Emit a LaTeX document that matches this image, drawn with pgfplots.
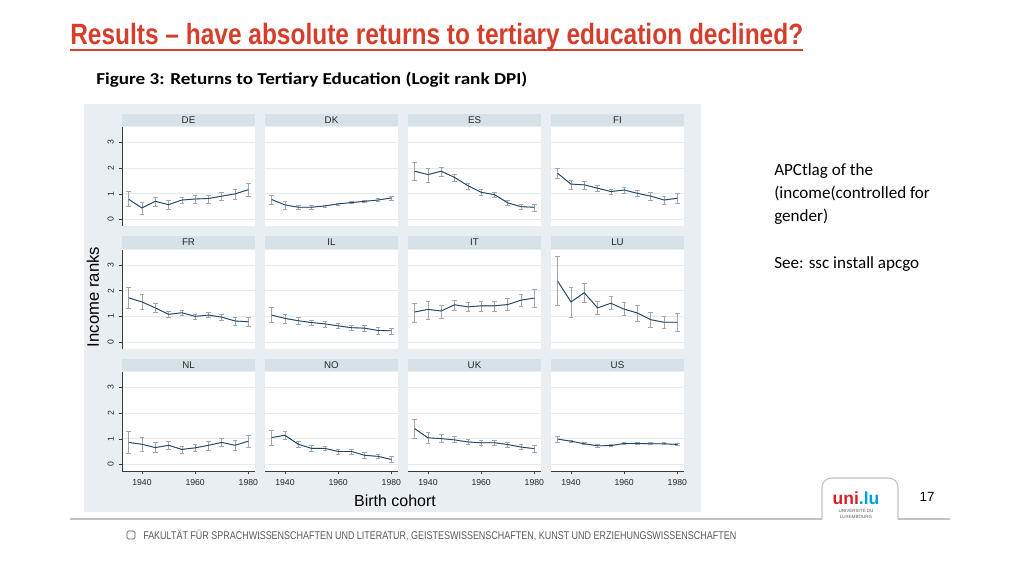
\documentclass[border=0pt]{standalone}
\usepackage{pgfplots}
\pgfplotsset{compat=1.18}
\usepackage{pgfplotstable}
\usepackage{graphicx}
\usepackage{fontspec}
\setmainfont{Liberation Sans}
\newfontfamily\calibri{Carlito}

\definecolor{bgc}{RGB}{232,238,241}
\definecolor{stripc}{RGB}{214,225,232}
\definecolor{gridc}{RGB}{228,235,239}
\definecolor{navyc}{RGB}{26,71,111}
\definecolor{errc}{RGB}{165,165,165}
\definecolor{axc}{RGB}{60,60,60}
\definecolor{titred}{RGB}{214,62,43}
\definecolor{linec}{RGB}{195,195,195}
\definecolor{footc}{RGB}{90,90,90}
\definecolor{unired}{RGB}{210,35,42}
\definecolor{uniblue}{RGB}{0,160,220}

\pgfplotstableread{
x y lo hi
1935 0.79 0.53 1.10
1940 0.45 0.22 0.67
1945 0.71 0.53 0.87
1950 0.58 0.41 0.74
1955 0.76 0.63 0.87
1960 0.80 0.63 0.93
1965 0.82 0.65 0.93
1970 0.91 0.74 1.06
1975 1.00 0.78 1.19
1980 1.16 0.89 1.41
}\tabDE
\pgfplotstableread{
x y lo hi
1935 0.78 0.61 0.96
1940 0.57 0.41 0.71
1945 0.48 0.38 0.57
1950 0.48 0.41 0.54
1955 0.53 0.49 0.57
1960 0.61 0.56 0.65
1965 0.66 0.62 0.70
1970 0.71 0.66 0.76
1975 0.76 0.70 0.81
1980 0.84 0.75 0.92
}\tabDK
\pgfplotstableread{
x y lo hi
1935 1.88 1.54 2.23
1940 1.75 1.45 1.99
1945 1.88 1.67 2.03
1950 1.64 1.47 1.77
1955 1.32 1.19 1.42
1960 1.06 0.96 1.16
1965 0.97 0.87 1.07
1970 0.65 0.54 0.76
1975 0.50 0.39 0.61
1980 0.48 0.32 0.61
}\tabES
\pgfplotstableread{
x y lo hi
1935 1.80 1.60 1.99
1940 1.38 1.19 1.54
1945 1.35 1.19 1.49
1950 1.22 1.10 1.33
1955 1.09 0.97 1.19
1960 1.15 1.03 1.25
1965 1.02 0.89 1.15
1970 0.91 0.74 1.06
1975 0.76 0.61 0.91
1980 0.83 0.63 1.02
}\tabFI
\pgfplotstableread{
x y lo hi
1935 1.72 1.31 2.14
1940 1.56 1.28 1.85
1945 1.33 1.14 1.49
1950 1.08 0.97 1.18
1955 1.14 1.04 1.24
1960 1.00 0.90 1.08
1965 1.05 0.95 1.15
1970 0.97 0.86 1.08
1975 0.82 0.67 0.95
1980 0.79 0.63 0.95
}\tabFR
\pgfplotstableread{
x y lo hi
1935 1.05 0.76 1.35
1940 0.92 0.72 1.09
1945 0.83 0.69 0.96
1950 0.76 0.64 0.86
1955 0.71 0.59 0.81
1960 0.63 0.53 0.72
1965 0.56 0.47 0.65
1970 0.54 0.42 0.65
1975 0.45 0.32 0.56
1980 0.44 0.31 0.55
}\tabIL
\pgfplotstableread{
x y lo hi
1935 1.17 0.78 1.50
1940 1.27 0.88 1.60
1945 1.21 0.92 1.42
1950 1.45 1.23 1.64
1955 1.37 1.19 1.54
1960 1.41 1.21 1.60
1965 1.41 1.21 1.60
1970 1.46 1.24 1.69
1975 1.63 1.40 1.85
1980 1.71 1.35 2.06
}\tabIT
\pgfplotstableread{
x y lo hi
1935 2.37 1.42 3.33
1940 1.56 0.96 2.14
1945 1.92 1.56 2.29
1950 1.33 1.08 1.59
1955 1.51 1.28 1.76
1960 1.28 1.03 1.54
1965 1.13 0.81 1.44
1970 0.87 0.59 1.14
1975 0.77 0.54 1.00
1980 0.77 0.42 1.12
}\tabLU
\pgfplotstableread{
x y lo hi
1935 0.86 0.43 1.28
1940 0.79 0.51 1.05
1945 0.66 0.47 0.86
1950 0.75 0.60 0.91
1955 0.59 0.45 0.70
1960 0.65 0.52 0.78
1965 0.75 0.57 0.92
1970 0.86 0.72 1.01
1975 0.75 0.54 0.95
1980 0.91 0.69 1.12
}\tabNL
\pgfplotstableread{
x y lo hi
1935 1.05 0.74 1.35
1940 1.14 0.98 1.28
1945 0.79 0.66 0.92
1950 0.63 0.52 0.73
1955 0.63 0.54 0.72
1960 0.51 0.41 0.60
1965 0.51 0.41 0.60
1970 0.36 0.26 0.46
1975 0.32 0.23 0.41
1980 0.20 0.08 0.32
}\tabNO
\pgfplotstableread{
x y lo hi
1935 1.40 1.04 1.77
1940 1.04 0.81 1.26
1945 1.01 0.85 1.17
1950 0.96 0.85 1.08
1955 0.88 0.78 0.97
1960 0.85 0.76 0.94
1965 0.85 0.74 0.94
1970 0.78 0.68 0.88
1975 0.68 0.58 0.78
1980 0.62 0.46 0.76
}\tabUK
\pgfplotstableread{
x y lo hi
1935 0.99 0.88 1.09
1940 0.91 0.86 0.96
1945 0.81 0.77 0.85
1950 0.73 0.69 0.77
1955 0.74 0.72 0.77
1960 0.82 0.78 0.86
1965 0.82 0.79 0.85
1970 0.81 0.77 0.85
1975 0.81 0.77 0.85
1980 0.78 0.74 0.82
}\tabUS

\pgfplotsset{
  every axis title shift=0pt,
  panel/.style={
    anchor=south west, scale only axis,
    width=99.75pt, height=74.25pt,
    xmin=1932.5, xmax=1982.5, ymin=-0.25, ymax=3.6,
    xtick={1940,1960,1980}, ytick={0,1,2,3},
    ymajorgrids, grid style={draw=gridc, line width=0.6pt},
    axis background/.style={fill=white},
    axis x line*=bottom, axis y line*=left,
    axis line style={-},
    x axis line style={draw=none}, y axis line style={draw=none},
    xticklabels={}, yticklabels={},
    xtick style={draw=none}, ytick style={draw=none},
    tick align=outside, major tick length=2.6pt,
    clip=false,
    ticklabel style={font=\fontsize{6.5}{7}\selectfont, text=black!85},
    /pgf/number format/1000 sep={},
    /pgf/number format/assume math mode=true,
    title style={at={(0.5,1)}, anchor=south, fill=stripc, minimum width=99.75pt,
      minimum height=9.5pt, inner sep=0pt, outer sep=0pt, yshift=0.4pt,
      font=\fontsize{7.3}{8}\selectfont, text=black!85},
  },
  leftcol/.style={
    y axis line style={draw=axc, line width=0.5pt},
    yticklabels={0,1,2,3},
    ytick style={draw=axc, line width=0.5pt},
    yticklabel style={rotate=90, anchor=south},
  },
  botrow/.style={
    x axis line style={draw=axc, line width=0.5pt},
    xticklabels={1940,1960,1980},
    xtick style={draw=axc, line width=0.5pt},
  },
}

\newcommand\panel[5]{%
\begin{axis}[panel, at={({#1*0.75pt},{(576-#2)*0.75pt})}, title={#3}, #5]
\addplot[color=errc, line width=0.5pt, mark=none, forget plot,
  error bars/.cd, y dir=both, y explicit, error mark=-,
  error bar style={color=errc, line width=0.5pt, solid},
  error mark options={rotate=90, color=errc, line width=0.5pt, mark size=1.7pt}]
  table[x=x, y=y, y error plus expr=\thisrow{hi}-\thisrow{y},
        y error minus expr=\thisrow{y}-\thisrow{lo}]{#4};
\addplot[draw=navyc, line width=0.65pt, mark=none] table[x=x, y=y]{#4};
\end{axis}}

\begin{document}
\begin{tikzpicture}
\begin{scope}[x=0.75pt,y=0.75pt]
\path[use as bounding box, fill=white] (0,0) rectangle (1024,576);
\fill[bgc] (84,{576-104}) rectangle (701,{576-512});

% slide title
\node[anchor=base west, inner sep=0pt, text=titred] at (70,{576-45})
  {\resizebox{549.75pt}{\height}{\fontsize{22}{26}\selectfont\bfseries Results – have absolute returns to tertiary education declined?}};
\draw[titred, line width=1.5pt] (70,{576-50}) -- (803,{576-50});

\node[anchor=base west, inner sep=0pt] at (96,{576-85})
  {\resizebox{323.25pt}{\height}{\calibri\bfseries\fontsize{12.5}{15}\selectfont Figure 3: Returns to Tertiary Education (Logit rank DPI)}};

% right text
\begin{scope}[every node/.style={anchor=base west, inner sep=0pt, font=\calibri\fontsize{12.8}{15}\selectfont}]
\node at (774,{576-175}) {APCtlag of the};
\node at (774,{576-198}) {(income(controlled for};
\node at (774,{576-221.5}) {gender)};
\node at (774,{576-268}) {See: ssc install apcgo};
\end{scope}

% axis titles
\node[rotate=90, inner sep=0pt, font=\fontsize{12.5}{14}\selectfont] at (93,{576-297}) {Income ranks};
\node[inner sep=0pt, font=\fontsize{12}{14}\selectfont] at (395,{576-501}) {Birth cohort};

% bottom line and logo tab
\draw[linec, line width=0.8pt] (70,{576-519}) -- (822,{576-519});
\draw[linec, line width=0.8pt] (898,{576-519}) -- (950,{576-519});
\draw[linec, line width=0.8pt, rounded corners=7] (822,{576-519}) -- (822,{576-478}) -- (898,{576-478}) -- (898,{576-519});
\node[inner sep=0pt] at (856,{576-498})
  {\resizebox{35pt}{!}{\fontsize{15}{15}\selectfont\bfseries\textcolor{unired}{uni}\textcolor{uniblue}{.lu}}};
\node[inner sep=0pt, text=footc, font=\fontsize{3.4}{4}\selectfont, align=center] at (856,{576-513.5}) {UNIVERSITÉ DU\\LUXEMBOURG};
\node[inner sep=0pt, font=\fontsize{10}{12}\selectfont] at (927,{576-497}) {17};

% footer
\draw[footc, line width=0.6pt, rounded corners=1pt] (127,{576-531}) rectangle (135,{576-539});
\node[anchor=base west, inner sep=0pt, text=footc] at (143,{576-539.5})
  {\resizebox{444.75pt}{\height}{\fontsize{8.4}{10}\selectfont FAKULTÄT FÜR SPRACHWISSENSCHAFTEN UND LITERATUR, GEISTESWISSENSCHAFTEN, KUNST UND ERZIEHUNGSWISSENSCHAFTEN}};
\end{scope}

% panels
\panel{122}{226}{DE}{\tabDE}{leftcol}
\panel{265}{226}{DK}{\tabDK}{}
\panel{408}{226}{ES}{\tabES}{}
\panel{551}{226}{FI}{\tabFI}{}
\panel{122}{348.5}{FR}{\tabFR}{leftcol}
\panel{265}{348.5}{IL}{\tabIL}{}
\panel{408}{348.5}{IT}{\tabIT}{}
\panel{551}{348.5}{LU}{\tabLU}{}
\panel{122}{471}{NL}{\tabNL}{leftcol,botrow}
\panel{265}{471}{NO}{\tabNO}{botrow}
\panel{408}{471}{UK}{\tabUK}{botrow}
\panel{551}{471}{US}{\tabUS}{botrow}
\end{tikzpicture}
\end{document}
